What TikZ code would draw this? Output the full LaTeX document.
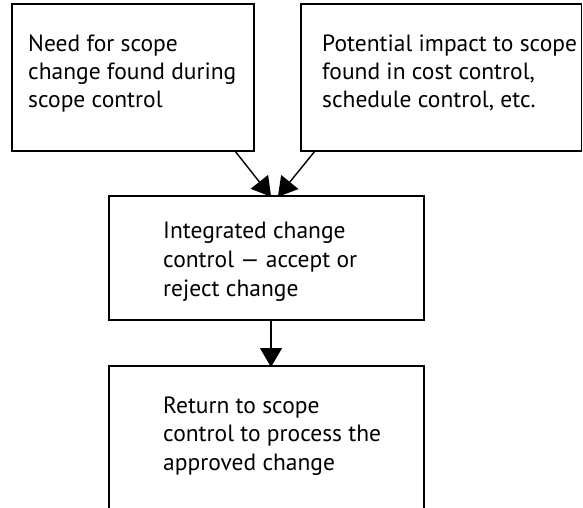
\documentclass[tikz,border=0pt]{standalone}
\usepackage{fontspec}
\setmainfont{PT Sans}
\usetikzlibrary{arrows.meta}
\begin{document}
\begin{tikzpicture}[x=1pt,y=-1pt,
  box/.style={draw=black,line width=1.6pt,inner sep=0pt,outer sep=0pt},
  label/.style={anchor=base west,align=left,inner sep=0pt,
    font=\fontsize{23.5}{27.5}\selectfont},
  flow/.style={draw=black,line width=1.4pt,
    -{Triangle[length=19pt,width=22pt]},shorten >=-1pt}]
  \useasboundingbox[fill=white] (0,0) rectangle (583,508);

  % four boxes, given by their centres and sizes
  \node[box,minimum width=242pt,minimum height=147pt] (need) at (133,77.5) {};
  \node[box,minimum width=280.5pt,minimum height=147pt] (impact) at (441.25,77.5) {};
  \node[box,minimum width=315pt,minimum height=124pt] (icc) at (266.5,258) {};
  \node[box,minimum width=315pt,minimum height=180pt] (ret) at (266.5,456) {};

  % texts, placed by the baseline of their last line
  \node[label] (t1) at (28,107) {Need for scope\\change found during\\scope control};
  \node[label] (t2) at (322,107) {Potential impact to scope\\found in cost control,\\schedule control, etc.};
  \node[label,font=\fontsize{23.5}{29}\selectfont] (t3) at (163,296) {Integrated change\\control — accept or\\reject change};
  \node[label,font=\fontsize{23.5}{28.5}\selectfont] (t4) at (163,470) {Return to scope\\control to process the\\approved change};

  % connectors
  \coordinate (a1) at ([xshift=-19pt]need.south east);
  \coordinate (a2) at ([xshift=14pt]impact.south west);
  \coordinate (h1) at ([xshift=4pt]icc.north);
  \coordinate (h2) at ([xshift=12pt]icc.north);
  \draw[flow] (a1) -- (h1);
  \draw[flow] (a2) -- (h2);
  \draw[flow] ([xshift=4.5pt]icc.south) -- ([xshift=4.5pt]ret.north);
\end{tikzpicture}
\end{document}
